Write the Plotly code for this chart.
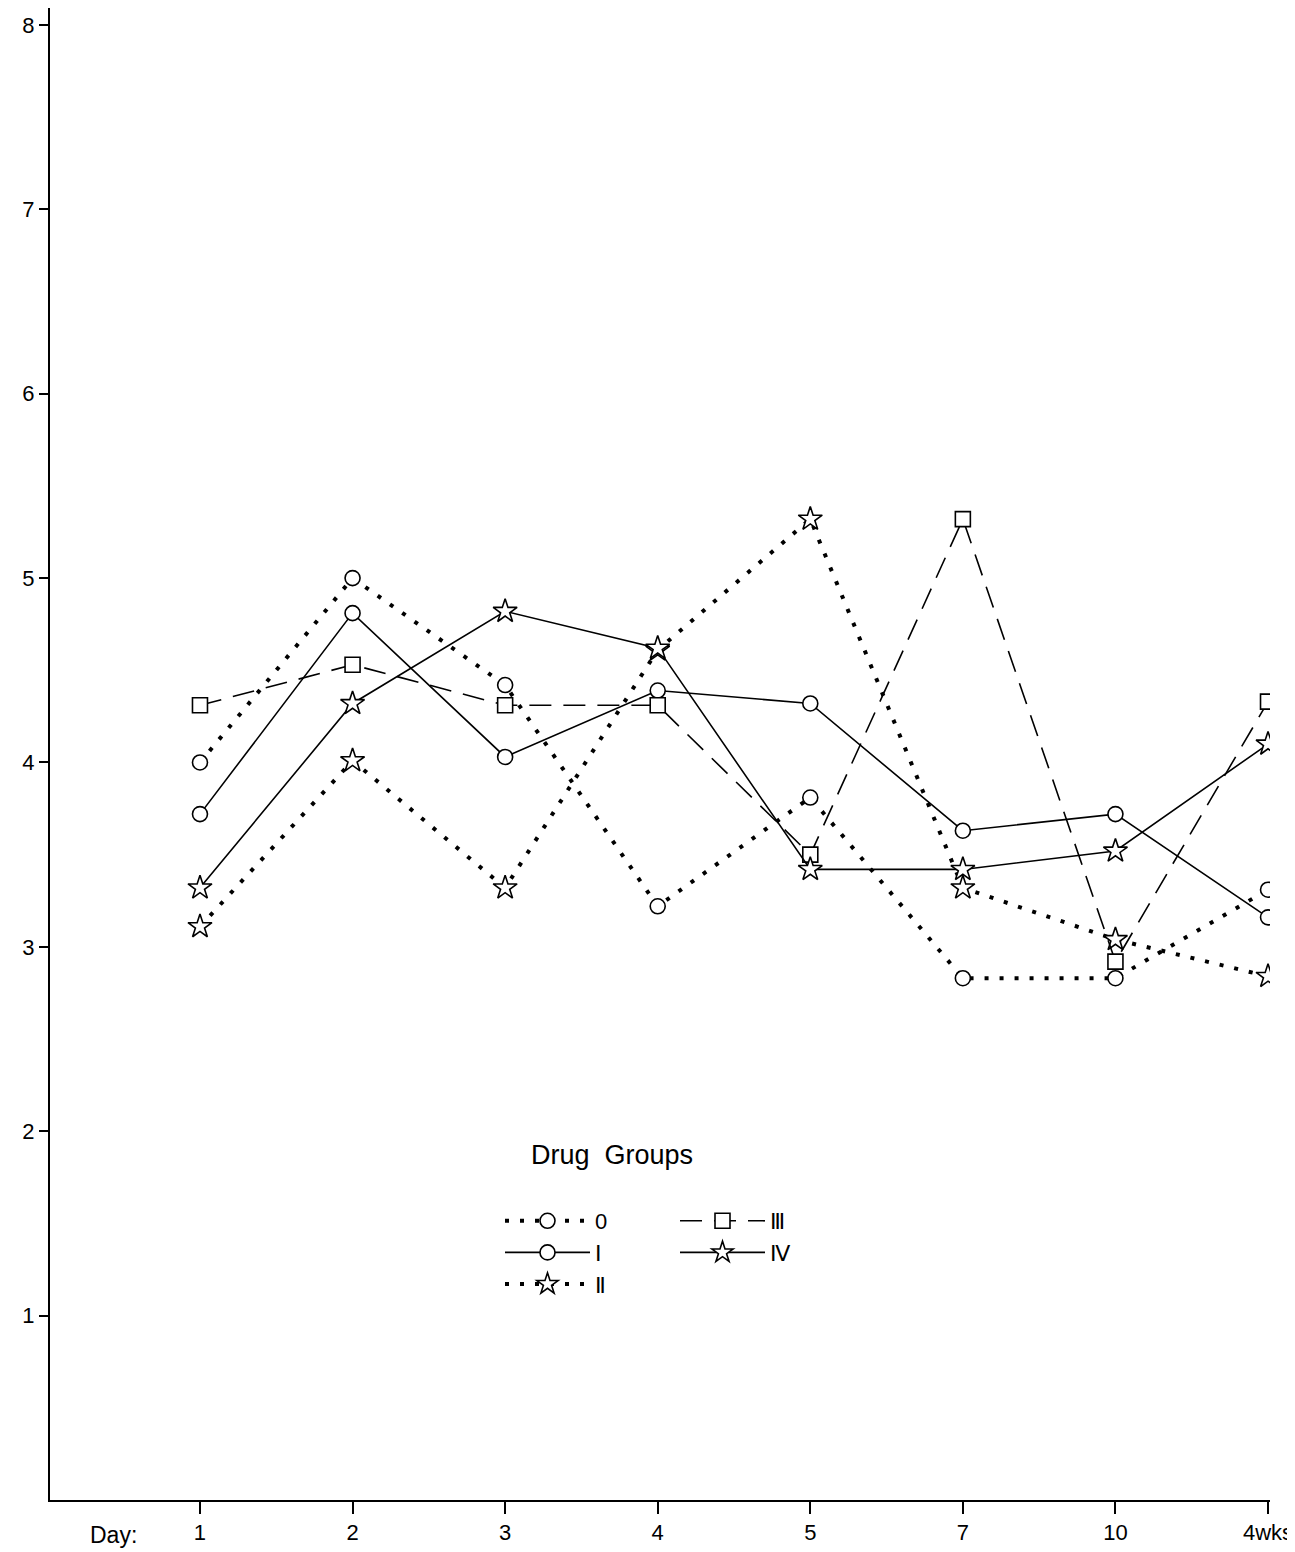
import plotly.graph_objects as go

days = ["1", "2", "3", "4", "5", "7", "10", "4wks"]
y_ticks = [1, 2, 3, 4, 5, 6, 7, 8]

group_names = ["0", "Ⅰ", "Ⅱ", "Ⅲ", "Ⅳ"]
group0 = [4.00, 5.00, 4.42, 3.22, 3.81, 2.83, 2.83, 3.31]
group1 = [3.72, 4.81, 4.03, 4.39, 4.32, 3.63, 3.72, 3.16]
group2 = [3.11, 4.01, 3.32, 4.61, 5.32, 3.32, 3.04, 2.84]
group3 = [4.31, 4.53, 4.31, 4.31, 3.50, 5.32, 2.92, 4.33]
group4 = [3.32, 4.32, 4.82, 4.62, 3.42, 3.42, 3.52, 4.10]

xpos = list(range(len(days)))
FONT = "Liberation Sans, Arial, sans-serif"

styles = [
    # name, data, symbol, dash, width, legend
    (group_names[0], group0, "circle", "4px,11px", 4, "legend"),
    (group_names[1], group1, "circle", "solid", 1.6, "legend"),
    (group_names[2], group2, "star", "4px,11px", 4, "legend"),
    (group_names[3], group3, "square", "22px,12px", 1.6, "legend2"),
    (group_names[4], group4, "star", "solid", 1.6, "legend2"),
]

fig = go.Figure()
for name, vals, sym, dash, w, leg in styles:
    fig.add_trace(go.Scatter(
        x=xpos, y=vals, name=name, mode="lines+markers",
        line=dict(color="black", width=w, dash=dash),
        marker=dict(symbol=sym, size=15 if sym != "star" else 18, color="white",
                    line=dict(color="black", width=1.6)),
        legend=leg,
    ))

W, H = 1287, 1544
L, R, T, B = 42, 25, 0, 52
pw = W - L - R
ph = H - T - B

fig.update_layout(
    width=W, height=H,
    margin=dict(l=L, r=R, t=T, b=B),
    paper_bgcolor="white", plot_bgcolor="white",
    font=dict(family=FONT, size=22, color="black"),
    showlegend=True,
    legend=dict(x=(500 - 8 - L) / pw, y=(1492 - 1192) / ph, xanchor="left", yanchor="top",
                bgcolor="rgba(0,0,0,0)", font=dict(size=22, family=FONT),
                itemwidth=85, tracegroupgap=0),
    legend2=dict(x=(675 - 8 - L) / pw, y=(1492 - 1192) / ph, xanchor="left", yanchor="top",
                 bgcolor="rgba(0,0,0,0)", font=dict(size=22, family=FONT),
                 itemwidth=85, tracegroupgap=0),
    annotations=[
        dict(text="Drug  Groups", x=(612 - 8 - L) / pw, y=(1492 - 1147) / ph,
             xref="paper", yref="paper",
             showarrow=False, font=dict(size=27, family=FONT), xanchor="center", yanchor="middle"),
        dict(text="Day:", x=(88 - 8 - L) / pw, y=(1492 - 1527) / ph, xref="paper", yref="paper",
             showarrow=False, font=dict(size=23, family=FONT), xanchor="left", yanchor="middle"),
    ],
)

fig.update_xaxes(
    range=[-0.983, 7.013],
    tickvals=xpos, ticktext=days,
    showline=True, linecolor="black", linewidth=2,
    ticks="outside", ticklen=12, tickwidth=1.5, tickcolor="black",
    showgrid=False, zeroline=False,
    tickfont=dict(size=22, family=FONT),
)
fig.update_yaxes(
    range=[0, 8.092],
    tickvals=y_ticks, ticktext=[str(v) for v in y_ticks],
    showline=True, linecolor="black", linewidth=2,
    ticks="outside", ticklen=9, tickwidth=1.5, tickcolor="black",
    showgrid=False, zeroline=False,
    tickfont=dict(size=22, family=FONT),
)

fig.write_html("out.html")
